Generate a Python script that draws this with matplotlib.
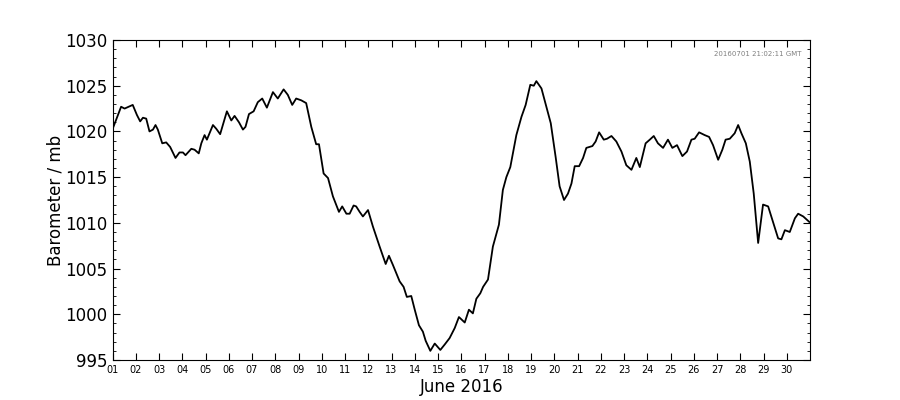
import numpy as np
import matplotlib
matplotlib.use("Agg")
import matplotlib.pyplot as plt
from matplotlib.ticker import MultipleLocator

# days since 2016-06-01 00:00 GMT, pressure in mb
days = [0.04, 0.37, 0.52, 0.87, 1.05, 1.19, 1.31, 1.45, 1.59, 1.74, 1.85, 1.95,
        2.14, 2.31, 2.48, 2.71, 2.88, 3.03, 3.14, 3.39, 3.53, 3.71, 3.82, 3.96,
        4.06, 4.32, 4.46, 4.63, 4.92, 5.11, 5.25, 5.44, 5.61, 5.72, 5.87, 6.07,
        6.25, 6.44, 6.64, 6.90, 7.11, 7.36, 7.54, 7.73, 7.90, 8.12, 8.33, 8.55,
        8.76, 8.88, 9.08, 9.27, 9.48, 9.74, 9.88, 10.06, 10.20, 10.37, 10.48,
        10.63, 10.77, 10.99, 11.20, 11.49, 11.75, 11.89, 12.06, 12.35, 12.52,
        12.66, 12.85, 13.00, 13.18, 13.35, 13.47, 13.67, 13.86, 14.10, 14.29,
        14.50, 14.72, 14.90, 15.15, 15.33, 15.50, 15.65, 15.82, 15.94, 16.15,
        16.36, 16.62, 16.79, 16.94, 17.11, 17.37, 17.59, 17.77, 17.97, 18.12,
        18.23, 18.45, 18.66, 18.85, 19.06, 19.23, 19.42, 19.59, 19.74, 19.88,
        20.07, 20.24, 20.38, 20.64, 20.78, 20.93, 21.13, 21.27, 21.46, 21.67,
        21.89, 22.10, 22.32, 22.53, 22.68, 22.93, 23.11, 23.28, 23.46, 23.68,
        23.89, 24.08, 24.28, 24.51, 24.71, 24.90, 25.04, 25.23, 25.47, 25.66,
        25.83, 26.05, 26.23, 26.37, 26.55, 26.76, 26.91, 27.05, 27.24, 27.41,
        27.58, 27.77, 27.98, 28.20, 28.41, 28.63, 28.77, 28.92, 29.13, 29.35,
        29.49, 29.71, 29.97]

pressure = [1020.5, 1022.7, 1022.5, 1022.9, 1021.8, 1021.1, 1021.5, 1021.4,
            1020.0, 1020.2, 1020.7, 1020.2, 1018.7, 1018.8, 1018.3, 1017.1,
            1017.7, 1017.7, 1017.4, 1018.1, 1018.0, 1017.6, 1018.7, 1019.6,
            1019.1, 1020.7, 1020.3, 1019.7, 1022.2, 1021.2, 1021.7, 1021.0,
            1020.2, 1020.5, 1021.9, 1022.2, 1023.2, 1023.6, 1022.6, 1024.3,
            1023.6, 1024.6, 1024.0, 1022.9, 1023.6, 1023.4, 1023.1, 1020.5,
            1018.6, 1018.6, 1015.4, 1014.9, 1012.9, 1011.2, 1011.8, 1011.0,
            1011.0, 1011.9, 1011.8, 1011.2, 1010.7, 1011.4, 1009.6, 1007.4,
            1005.5, 1006.4, 1005.4, 1003.6, 1003.0, 1001.9, 1002.0, 1000.5,
            998.8, 998.1, 997.1, 996.0, 996.8, 996.1, 996.7, 997.4, 998.5,
            999.7, 999.1, 1000.5, 1000.1, 1001.7, 1002.3, 1003.0, 1003.8,
            1007.4, 1009.8, 1013.6, 1015.0, 1016.1, 1019.6, 1021.6, 1022.9,
            1025.1, 1025.0, 1025.5, 1024.7, 1022.7, 1020.9, 1017.2, 1014.0,
            1012.5, 1013.2, 1014.3, 1016.2, 1016.2, 1017.1, 1018.2, 1018.4,
            1018.9, 1019.9, 1019.1, 1019.2, 1019.5, 1018.9, 1017.8, 1016.3,
            1015.8, 1017.1, 1016.1, 1018.7, 1019.1, 1019.5, 1018.7, 1018.2,
            1019.1, 1018.2, 1018.5, 1017.3, 1017.8, 1019.1, 1019.2, 1019.9,
            1019.6, 1019.4, 1018.5, 1016.9, 1018.0, 1019.1, 1019.2, 1019.8,
            1020.7, 1019.8, 1018.7, 1016.7, 1013.2, 1007.8, 1012.0, 1011.8,
            1010.1, 1008.3, 1008.2, 1009.2, 1009.0, 1010.5, 1011.0, 1010.7,
            1010.1]

day_labels = ["%02d" % d for d in range(1, 31)]
stamp = "20160701 21:02:11 GMT"

fig = plt.figure(figsize=(9, 4), dpi=100)
ax = fig.add_axes([0.125, 0.1, 0.775, 0.8])

ax.plot(days, pressure, color="black", lw=1.3)

ax.set_xlim(0, 30)
ax.set_ylim(995, 1030)
ax.set_xticks(np.arange(30))
ax.set_xticklabels(day_labels, fontsize=7)
ax.yaxis.set_major_locator(MultipleLocator(5))
ax.yaxis.set_minor_locator(MultipleLocator(1))
ax.tick_params(axis="y", labelsize=12)
ax.tick_params(which="both", direction="in", top=True, right=True)
ax.tick_params(which="major", length=5)
ax.tick_params(which="minor", length=2.5)

ax.set_xlabel("June 2016", fontsize=12, labelpad=2)
ax.set_ylabel("Barometer / mb", fontsize=12, labelpad=1)
ax.text(0.988, 0.965, stamp, transform=ax.transAxes, ha="right", va="top",
        fontsize=5, color="grey")

fig.savefig("out.png", dpi=100)
